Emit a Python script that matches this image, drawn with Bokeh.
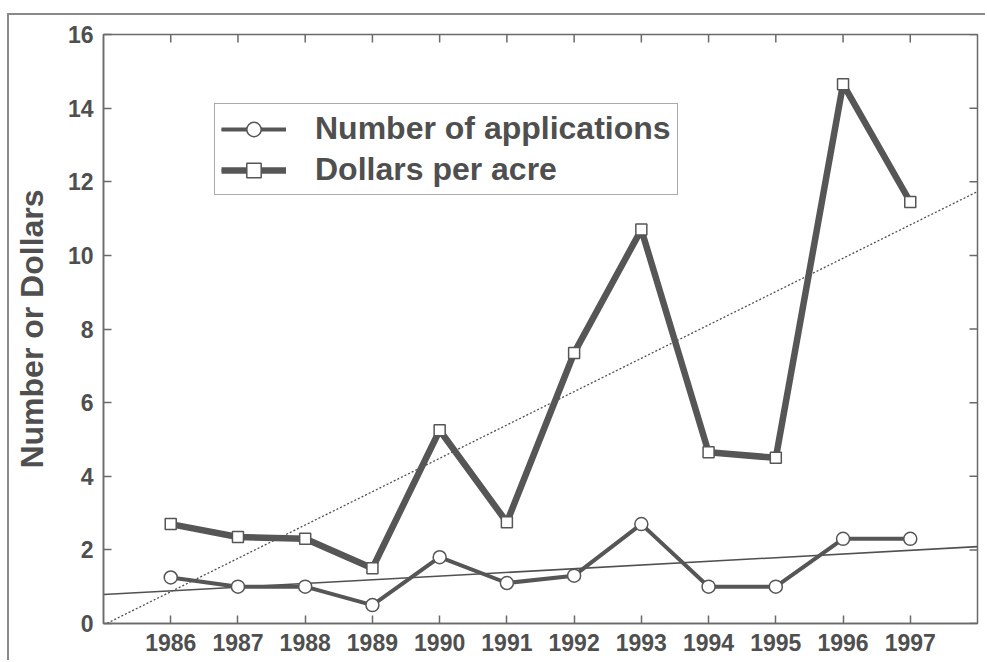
import numpy as np
from bokeh.plotting import figure
from bokeh.models import FixedTicker, Legend, LegendItem, Range1d
from bokeh.embed import file_html
from bokeh.resources import INLINE

# ---- data ----
years = [1986, 1987, 1988, 1989, 1990, 1991, 1992, 1993, 1994, 1995, 1996, 1997]
applications = [1.25, 1.0, 1.0, 0.5, 1.8, 1.1, 1.3, 2.7, 1.0, 1.0, 2.3, 2.3]
dollars = [2.7, 2.35, 2.3, 1.5, 5.25, 2.75, 7.35, 10.7, 4.65, 4.5, 14.65, 11.45]
y_ticks = [0, 2, 4, 6, 8, 10, 12, 14, 16]
x_span = [1985, 1998]
y_span = [0, 16]
series_labels = ["Number of applications", "Dollars per acre"]
y_label = "Number or Dollars"

FONT = "Liberation Sans"
INK = "#4f4f4f"
LINE = "#565656"
FRAME = "#6a6a6a"

p = figure(width=978, height=647,
           x_range=Range1d(x_span[0], x_span[1]), y_range=Range1d(y_span[0], y_span[1]),
           output_backend="svg", toolbar_location=None,
           min_border_left=94, min_border_right=10,
           min_border_top=19, min_border_bottom=39,
           background_fill_color="white", border_fill_color="white")
p.styles = {"margin-left": "7px", "margin-top": "13px",
            "border-top": "2px solid #8a8a8a", "border-left": "2px solid #8a8a8a"}
p.xgrid.visible = False
p.ygrid.visible = False
p.outline_line_color = FRAME
p.outline_line_width = 1.5

xa = p.xaxis[0]
xa.ticker = FixedTicker(ticks=years)
ya = p.yaxis[0]
ya.ticker = FixedTicker(ticks=y_ticks)
for ax in (xa, ya):
    ax.major_tick_in = 8
    ax.major_tick_out = 0
    ax.minor_tick_line_color = None
    ax.major_tick_line_color = FRAME
    ax.major_tick_line_width = 1.5
    ax.axis_line_color = FRAME
    ax.axis_line_width = 1.5
    ax.major_label_text_font = FONT
    ax.major_label_text_font_style = "bold"
    ax.major_label_text_font_size = "23px"
    ax.major_label_text_color = INK
    ax.major_label_standoff = 10
ya.axis_label = y_label
ya.axis_label_text_font = FONT
ya.axis_label_text_font_style = "bold"
ya.axis_label_text_font_size = "32px"
ya.axis_label_text_color = INK
ya.axis_label_standoff = 15

# mirrored inward ticks on top and right edges (half of each dash is clipped by the frame)
p.scatter(years, [y_span[1]] * len(years), marker="dash", angle=np.pi / 2, size=16,
          line_color=FRAME, line_width=1.5)
p.scatter([x_span[1]] * len(y_ticks), y_ticks, marker="dash", size=16,
          line_color=FRAME, line_width=1.5)

# linear trend lines (least squares fits of each series)
yr = np.array(years, dtype=float)
ts_x = np.array(x_span, dtype=float)
a_fit = np.polyfit(yr, np.array(applications), 1)
d_fit = np.polyfit(yr, np.array(dollars), 1)
r_at = p.line(ts_x, np.polyval(a_fit, ts_x), line_color="#505050", line_width=1.6)
r_dt = p.line(ts_x, np.polyval(d_fit, ts_x), line_color="#505050", line_width=1.3,
              line_dash="2 2")

# series
r_al = p.line(years, applications, line_color=LINE, line_width=4, line_join="round")
r_ap = p.scatter(years, applications, marker="circle", size=13, fill_color="white",
                 line_color=LINE, line_width=1.5)
r_dl = p.line(years, dollars, line_color=LINE, line_width=6.5, line_join="round")
r_dp = p.scatter(years, dollars, marker="square", size=11, fill_color="white",
                 line_color=LINE, line_width=1.5)

legend = Legend(items=[
    LegendItem(label=series_labels[0], renderers=[r_at, r_al, r_ap]),
    LegendItem(label=series_labels[1], renderers=[r_dt, r_dl, r_dp]),
], location=(111, 428))
legend.border_line_color = "#555555"
legend.border_line_width = 1.5
legend.background_fill_color = "white"
legend.background_fill_alpha = 1.0
legend.label_text_font = FONT
legend.label_text_font_style = "bold"
legend.label_text_font_size = "32px"
legend.label_text_color = INK
legend.glyph_width = 65
legend.glyph_height = 36
legend.label_height = 36
legend.label_standoff = 29
legend.spacing = 4
legend.padding = 6
legend.margin = 0
p.add_layout(legend)

open("out.html", "w").write(file_html(p, INLINE))
